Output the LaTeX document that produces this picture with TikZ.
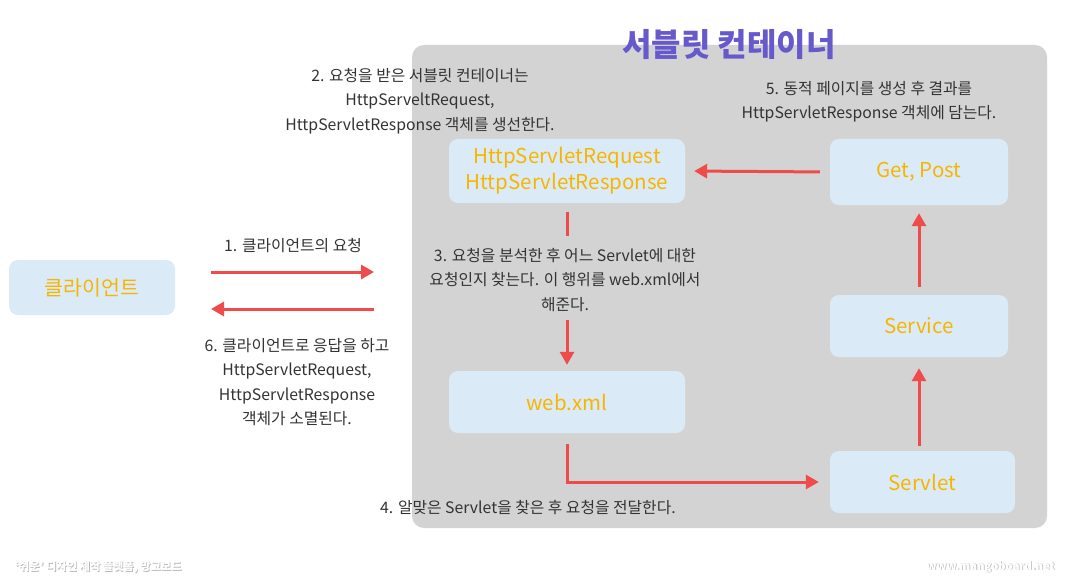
\documentclass[tikz,border=0pt]{standalone}
\usepackage{fontspec}
\setmainfont{Noto Sans CJK KR}
\usetikzlibrary{arrows.meta}
\definecolor{cont}{HTML}{D3D3D3}
\definecolor{boxfill}{HTML}{DAEBF7}
\definecolor{boxtext}{HTML}{F7B500}
\definecolor{arr}{HTML}{EF4B4B}
\definecolor{title}{HTML}{6659CC}
\definecolor{txt}{HTML}{333333}
\tikzset{
  x=1pt,y=-1pt,
  bx/.style={fill=boxfill, rounded corners=9pt, draw=none, text=boxtext, font=\fontsize{20.5}{26}\selectfont, align=center, inner sep=0pt},
  lbl/.style={text=txt, font=\fontsize{15.8}{24.3}\selectfont, align=center, inner sep=1pt},
  ar/.style={draw=arr, line width=3pt, -{Triangle[length=13pt,width=14pt]}},
  ln/.style={draw=arr, line width=3pt},
  wm/.style={font=\fontsize{11.2}{13}\selectfont\bfseries, inner sep=0pt},
}
\begin{document}
\begin{tikzpicture}
\useasboundingbox (0,0) rectangle (1071,583);
% container
\fill[cont, rounded corners=12pt] (412,45) rectangle (1047,528);
\node[text=title, font=\fontsize{32}{36}\selectfont\bfseries, inner sep=0pt] (title) at (729,45) {서블릿 컨테이너};
% boxes
\node[bx, minimum width=166pt, minimum height=55pt] (client) at (92,287.5) {클라이언트};
\node[bx, minimum width=236pt, minimum height=64pt] (http) at (567,171) {HttpServletRequest\\HttpServletResponse};
\node[bx, minimum width=178pt, minimum height=66pt] (getpost) at (919,172) {Get, Post};
\node[bx, minimum width=178pt, minimum height=62pt] (service) at (919,326) {Service};
\node[bx, minimum width=236pt, minimum height=62pt] (webxml) at (567,402) {web.xml};
\node[bx, minimum width=185pt, minimum height=62pt] (servlet) at (922.5,482) {Servlet};
% client arrows
\coordinate (r1s) at (211,272); \coordinate (r1e) at (374,272);
\coordinate (r6s) at (374,309); \coordinate (r6e) at (211,309);
\draw[ar] (r1s) -- (r1e);
\draw[ar] (r6s) -- (r6e);
\node[lbl] (l1) at (293,246) {1. 클라이언트의 요청};
\node[lbl] (l6) at (297,382) {6. 클라이언트로 응답을 하고\\HttpServletRequest,\\HttpServletResponse\\객체가 소멸된다.};
% http -> webxml
\coordinate (m1) at (567,236);
\coordinate (m2) at (567,320);
\draw[ln, shorten <=9pt] (http.south) -- (m1);
\draw[ar, shorten >=6pt] (m2) -- (webxml.north);
\node[lbl] (l3) at (565,280) {3. 요청을 분석한 후 어느 Servlet에 대한\\요청인지 찾는다. 이 행위를 web.xml에서\\해준다.};
% webxml -> servlet
\draw[ar, shorten <=11pt, shorten >=11pt] (webxml.south) |- (servlet.west);
\node[lbl, anchor=west] (l4) at (379,508) {4. 알맞은 Servlet을 찾은 후 요청을 전달한다.};
% servlet -> service -> getpost
\draw[ar, shorten <=5pt, shorten >=11pt] (servlet.north -| service.south) -- (service.south);
\draw[ar, shorten <=8pt, shorten >=8pt] (service.north) -- (getpost.south);
% getpost -> http
\draw[ar, shorten <=10pt, shorten >=9pt] (getpost.west) -- (http.east);
\node[lbl] (l5) at (869,102) {5. 동적 페이지를 생성 후 결과를\\HttpServletResponse 객체에 담는다.};
\node[lbl] (l2) at (420,101) {2. 요청을 받은 서블릿 컨테이너는\\HttpServeltRequest,\\HttpServletResponse 객체를 생선한다.};
% watermarks
\node[wm, text=gray!55, anchor=west] (wm1s) at (15.8,567.8) {‘쉬운’ 디자인 제작 플랫폼, 망고보드};
\node[wm, text=white, anchor=west] (wm1) at (15,567) {‘쉬운’ 디자인 제작 플랫폼, 망고보드};
\node[wm, text=gray!55, anchor=east] (wm2s) at (1055.8,567.8) {www.mangoboard.net};
\node[wm, text=white, anchor=east] (wm2) at (1055,567) {www.mangoboard.net};
\end{tikzpicture}
\end{document}
